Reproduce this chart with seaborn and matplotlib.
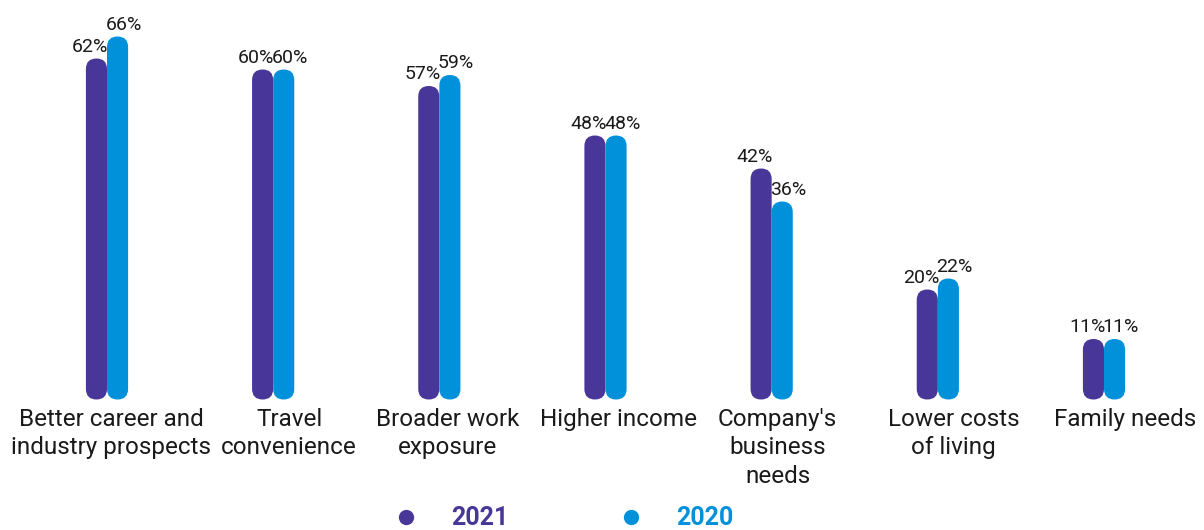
import matplotlib
matplotlib.use("Agg")
import matplotlib.pyplot as plt
from matplotlib.patches import FancyBboxPatch
from matplotlib.lines import Line2D
from matplotlib.transforms import ScaledTranslation
import seaborn as sns
import pandas as pd

categories = [
    "Better career and\nindustry prospects",
    "Travel\nconvenience",
    "Broader work\nexposure",
    "Higher income",
    "Company's\nbusiness\nneeds",
    "Lower costs\nof living",
    "Family needs",
]
values_2021 = [62, 60, 57, 48, 42, 20, 11]
values_2020 = [66, 60, 59, 48, 36, 22, 11]
years = ["2021", "2020"]

PURPLE = "#483698"
BLUE = "#0091DA"

# horizontal nudge (pixels) of each category label relative to its bars
label_nudge_px = [4, 16, 8, 13, 6, 16, 21]

df = pd.DataFrame({
    "reason": categories * 2,
    "share": values_2021 + values_2020,
    "year": [years[0]] * len(categories) + [years[1]] * len(categories),
})

sns.set_theme(style="white")
plt.rcParams["font.family"] = ["Roboto", "DejaVu Sans"]

W, H = 1204, 530
fig = plt.figure(figsize=(W / 100, H / 100), dpi=100)
base_px = 399.5
top_px = 20
ax = fig.add_axes([0, (H - base_px) / H, 1, (base_px - top_px) / H])

sns.barplot(data=df, x="reason", y="share", hue="year", hue_order=years,
            palette=[PURPLE, BLUE], width=0.254, saturation=1,
            order=categories, ax=ax, legend=False)

px_per_unit = 166.17
ax.set_xlim(-107 / px_per_unit, 6 + (W - 1104) / px_per_unit)
ax.set_ylim(0, (base_px - top_px) / 5.5)
for s in ax.spines.values():
    s.set_visible(False)
ax.set_yticks([])
ax.set_xlabel("")
ax.set_ylabel("")
ax.tick_params(axis="x", length=0, pad=6)

# rounded caps on every bar
fig.canvas.draw()
for lab, dx in zip(ax.get_xticklabels(), label_nudge_px):
    lab.set_fontsize(17.5)
    lab.set_fontweight("normal")
    lab.set_color("#1a1a1a")
    lab.set_linespacing(1.3)
    lab.set_transform(lab.get_transform() +
                      ScaledTranslation(dx / 100, 0, fig.dpi_scale_trans))

inv = ax.transData.inverted()
(x0, y0), (x1, y1) = inv.transform([(0, 0), (1, 1)])
aspect = (y1 - y0) / (x1 - x0)
for i, cont in enumerate(ax.containers):
    for bar in cont:
        x, y = bar.get_x(), bar.get_y()
        w, h = bar.get_width(), bar.get_height()
        rounded = FancyBboxPatch((x, y), w, h,
                                 boxstyle=f"round,pad=0,rounding_size={w / 2}",
                                 mutation_aspect=aspect,
                                 facecolor=bar.get_facecolor(), edgecolor="none")
        ax.add_patch(rounded)
        bar.set_visible(False)
        # 2021 labels lean left, 2020 labels lean right
        if i == 0:
            xy, ha, dx = (x + w, h), "right", 1
        else:
            xy, ha, dx = (x, h), "left", -1
        ax.annotate(f"{h:.0f}%", xy=xy, xytext=(dx, 2), textcoords="offset points",
                    ha=ha, va="bottom", fontsize=14, color="#1a1a1a")

handles = [Line2D([], [], marker="o", linestyle="none", markersize=11,
                  markerfacecolor=c, markeredgecolor="none")
           for c in (PURPLE, BLUE)]
leg = fig.legend(handles, years, ncol=2, loc="center",
                 bbox_to_anchor=(0.463, 0.022), frameon=False,
                 prop={"size": 18, "weight": "bold"},
                 handletextpad=0.8, columnspacing=3.9, borderpad=0)
for t, c in zip(leg.get_texts(), (PURPLE, BLUE)):
    t.set_color(c)

fig.savefig("out.png", dpi=100)
